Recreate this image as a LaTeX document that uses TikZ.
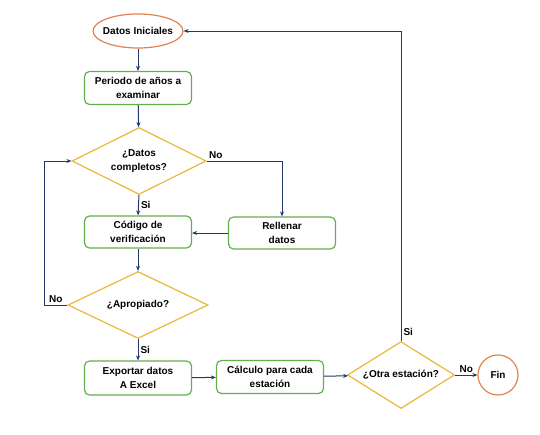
\documentclass[tikz,border=0pt]{standalone}
\usepackage{fontspec}
\setmainfont{Liberation Sans}
\usetikzlibrary{arrows.meta,shapes.geometric}
\definecolor{naranja}{HTML}{E2834F}
\definecolor{verde}{HTML}{63AE4E}
\definecolor{oro}{HTML}{EAB73A}
\definecolor{azul}{HTML}{22386A}

\begin{document}
\begin{tikzpicture}[x=1pt,y=-1pt,font=\bfseries\fontsize{10}{14}\selectfont,
  caja/.style={draw=verde,line width=1.2pt,rounded corners=5pt,align=center,
    minimum width=107pt,minimum height=33pt,inner sep=1pt},
  rombo/.style={draw=oro,line width=1.2pt,diamond,aspect=1.6,align=center,inner sep=0pt},
  flecha/.style={draw=azul,line width=1pt,-{Stealth[length=5pt,width=4pt]}},
  etiq/.style={inner sep=2pt}]
 \useasboundingbox (0,0) rectangle (540,434);
 \node [draw=naranja,line width=1.2pt,ellipse,inner xsep=-6pt,
   minimum width=90pt,minimum height=34pt] (ini) at (138,31) {Datos Iniciales};
 \node [caja] (periodo) at (138,88) {Periodo de años a\\examinar};
 \node [rombo,minimum width=134pt,minimum height=67pt] (completos) at (139,161) {¿Datos\\completos?};
 \node [caja,minimum height=32pt] (codigo) at (138,232) {Código de\\verificación};
 \node [caja,minimum height=32pt] (rellenar) at (282,233) {Rellenar\\datos};
 \node [rombo,minimum width=140pt,minimum height=67pt] (apropiado) at (138,305) {¿Apropiado?};
 \node [caja,minimum height=34pt] (exportar) at (138,378) {Exportar datos\\A Excel};
 \node [caja] (calculo) at (270,377) {Cálculo para cada\\estación};
 \node [rombo,minimum width=107pt,minimum height=67pt] (otra) at (401,375) {¿Otra estación?};
 \node [draw=naranja,line width=1.2pt,circle,minimum size=40pt,inner sep=0pt] (fin) at (498,375) {Fin};
% conectores
 \draw [flecha] (ini) -- (periodo);
 \draw [flecha] (periodo) -- (completos);
 \draw [flecha] (completos.east) node[above right,etiq]{No} -| (rellenar.north);
 \draw [flecha] (rellenar.west) -- (codigo.east |- rellenar.west);
 \draw [flecha] (completos.south) -- node[right,etiq]{Si} (codigo.north);
 \draw [flecha] (codigo) -- (apropiado);
 \draw [flecha] (apropiado.west) -- node[above,etiq]{No} ++(-23,0) |- (completos.west);
 \draw [flecha] (apropiado.south) -- node[right,etiq]{Si} (exportar.north);
 \draw [flecha] (exportar) -- (calculo);
 \draw [flecha] (calculo) -- (otra);
 \draw [flecha] (otra.east) -- node[above,etiq]{No} (fin);
 \draw [flecha] (otra.north) -- node[pos=0.03,right,etiq]{Si} (otra.north |- ini.east) -- (ini.east);
\end{tikzpicture}
\end{document}
